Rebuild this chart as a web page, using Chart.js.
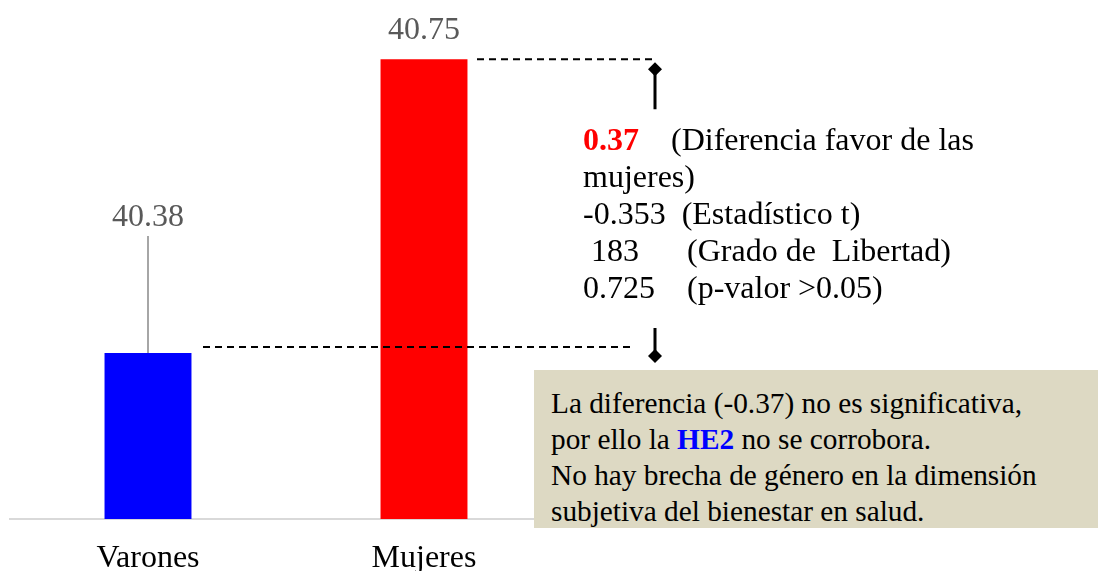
<!DOCTYPE html>
<html>
<head>
<meta charset="utf-8">
<script src="https://cdn.jsdelivr.net/npm/chart.js@4.4.1/dist/chart.umd.min.js"></script>
<style>
  html, body { margin: 0; padding: 0; background: #fff; }
  #wrap { position: relative; width: 1100px; height: 571px; overflow: hidden; font-family: "Liberation Serif", "Times New Roman", serif; }
  #stats { position: absolute; left: 583px; top: 121px; font-size: 32px; line-height: 37px; white-space: pre; color: #000; }
  #box { position: absolute; left: 534px; top: 370px; width: 547px; height: 143px; padding: 15px 0 0 17px; background: #ddd9c3; font-size: 29.3px; line-height: 36px; white-space: nowrap; color: #000; }
</style>
</head>
<body>
<div id="wrap">
  <canvas id="BarChart" width="1100" height="571"></canvas>
  <div id="stats"><b style="color:#ff0000">0.37</b>    (Diferencia favor de las
mujeres)
-0.353  (Estadístico t)
 183      (Grado de  Libertad)
0.725    (p-valor &gt;0.05)</div>
  <div id="box">La diferencia (-0.37) no es significativa,<br>por ello la <b style="color:#0000ff">HE2</b> no se corrobora.<br>No hay brecha de género en la dimensión<br>subjetiva del bienestar en salud.</div>
</div>
<script>
var categories = ['Varones', 'Mujeres'];
var values = [40.38, 40.75];
var barColors = ['#0000ff', '#ff0000'];
var yMin = 40.171;
var yMax = 40.812;

// value labels, leader line, dashed guides and arrow ends
var extrasPlugin = {
  id: 'extras',
  afterDatasetsDraw: function(chart) {
    var ctx = chart.ctx;
    var y = chart.scales.y;
    var bars = chart.getDatasetMeta(0).data;
    var lift = [135, 29];
    ctx.save();
    // leader line for the short bar
    ctx.strokeStyle = '#a6a6a6';
    ctx.lineWidth = 2;
    ctx.beginPath();
    ctx.moveTo(bars[0].x, bars[0].y);
    ctx.lineTo(bars[0].x, bars[0].y - lift[0] + 18);
    ctx.stroke();

    ctx.fillStyle = '#595959';
    ctx.font = '32px "Liberation Serif", serif';
    ctx.textAlign = 'center';
    ctx.textBaseline = 'middle';
    bars.forEach(function(b, i) {
      ctx.fillText(values[i].toFixed(2), b.x, b.y - lift[i]);
    });

    // dashed guides
    var yHi = y.getPixelForValue(values[1]);
    var yLo = y.getPixelForValue(values[0]) - 6;
    ctx.strokeStyle = '#000';
    ctx.lineWidth = 2;
    ctx.setLineDash([7, 5]);
    ctx.beginPath();
    ctx.moveTo(bars[1].x + 53, yHi);
    ctx.lineTo(655, yHi);
    ctx.moveTo(bars[0].x + 55, yLo);
    ctx.lineTo(632, yLo);
    ctx.stroke();
    ctx.setLineDash([]);

    // arrow stems with diamond heads
    ctx.lineWidth = 3;
    ctx.beginPath();
    ctx.moveTo(655, yHi + 14);
    ctx.lineTo(655, yHi + 50);
    ctx.moveTo(655, 328);
    ctx.lineTo(655, 352);
    ctx.stroke();
    ctx.fillStyle = '#000';
    [yHi + 10, 356].forEach(function(cy) {
      ctx.beginPath();
      ctx.moveTo(655, cy - 7);
      ctx.lineTo(662, cy);
      ctx.lineTo(655, cy + 7);
      ctx.lineTo(648, cy);
      ctx.closePath();
      ctx.fill();
    });
    ctx.restore();
  }
};

new Chart('BarChart', {
  type: 'bar',
  data: {
    labels: categories,
    datasets: [{
      data: values,
      backgroundColor: barColors,
      barPercentage: 0.315,
      categoryPercentage: 1
    }]
  },
  options: {
    responsive: false,
    animation: false,
    layout: { padding: { left: 10, right: 538, top: 10, bottom: 0 } },
    plugins: { legend: { display: false }, tooltip: { enabled: false } },
    scales: {
      x: {
        grid: { display: false, drawTicks: false },
        border: { display: true, color: '#d9d9d9', width: 2 },
        ticks: { color: '#000', padding: 20, font: { family: '"Liberation Serif", serif', size: 32 } },
        afterFit: function(scale) { scale.height = 52; }
      },
      y: { display: false, min: yMin, max: yMax }
    }
  },
  plugins: [extrasPlugin]
});
</script>
</body>
</html>
